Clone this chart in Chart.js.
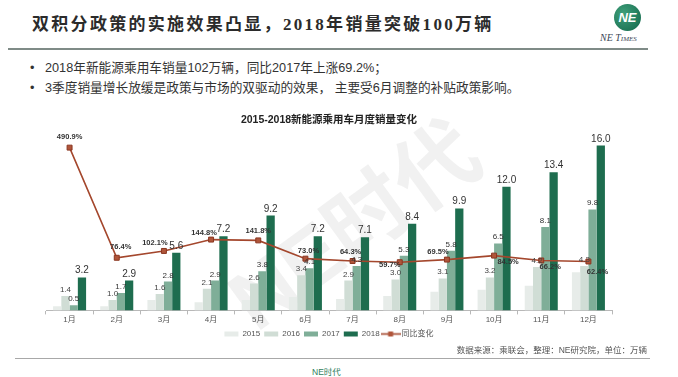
<!DOCTYPE html>
<html>
<head>
<meta charset="utf-8">
<script src="https://cdn.jsdelivr.net/npm/chart.js@4.4.1/dist/chart.umd.min.js"></script>
<style>
html,body{margin:0;padding:0;background:#fff;}
body{width:678px;height:377px;position:relative;overflow:hidden;font-family:"Liberation Sans","Noto Sans CJK SC",sans-serif;}
#title{position:absolute;left:32px;top:13px;font-family:"Liberation Serif","Noto Sans CJK SC",serif;font-weight:700;font-size:17px;letter-spacing:2.3px;color:#2b2b2b;white-space:nowrap;line-height:24px;}
#rule{position:absolute;left:8px;top:48px;width:640px;height:2px;background:#7f8b87;}
.bullet{position:absolute;left:30px;font-size:12.7px;color:#333;white-space:nowrap;line-height:16px;}
.bullet span.dot{display:inline-block;width:15px;}
#logo{position:absolute;left:614px;top:4px;width:27px;height:27px;border-radius:50%;background:radial-gradient(circle at 35% 35%,#3fa07a,#12664a);color:#fff;font:italic bold 13px "Liberation Sans";text-align:center;line-height:27px;}
#logoText{position:absolute;left:600px;top:32px;font-family:"Liberation Serif",serif;font-style:italic;font-variant:small-caps;font-size:10px;color:#3b4656;white-space:nowrap;}
#chartBox{position:absolute;left:0;top:100px;width:678px;height:249px;}
#watermark{position:absolute;left:350px;top:220px;transform:translate(-50%,-50%) rotate(-36deg);font:bold 84px "Liberation Sans","Noto Sans CJK SC";color:rgba(150,150,150,0.13);white-space:nowrap;}
#source{position:absolute;right:31px;top:344px;font-size:8.5px;color:#555;line-height:12px;white-space:nowrap;}
#footRule{position:absolute;left:15px;top:358px;width:635px;height:1px;background:#a8a8a8;}
#foot{position:absolute;left:312px;top:366px;font-size:8.5px;color:#2e7d5b;line-height:12px;}
</style>
</head>
<body>
<div id="title">双积分政策的实施效果凸显，2018年销量突破100万辆</div>
<div id="logo">NE</div>
<div id="logoText">NE Times</div>
<div id="rule"></div>
<div class="bullet" style="top:60px"><span class="dot">•</span>2018年新能源乘用车销量102万辆，同比2017年上涨69.2%；</div>
<div class="bullet" style="top:80px"><span class="dot">•</span>3季度销量增长放缓是政策与市场的双驱动的效果， 主要受6月调整的补贴政策影响。</div>
<div id="watermark">NE时代</div>
<div id="chartBox"><canvas id="c" width="678" height="249"></canvas></div>
<div id="source">数据来源：乘联会，整理：NE研究院，单位：万辆</div>
<div id="footRule"></div>
<div id="foot">NE时代</div>
<script>
// ---- data ----
const categories = ['1月','2月','3月','4月','5月','6月','7月','8月','9月','10月','11月','12月'];
const sales2015 = [0.4, 0.4, 1.0, 0.8, 1.0, 1.3, 1.1, 1.4, 1.8, 2.0, 2.4, 3.7];
const sales2016 = [1.4, 1.0, 1.6, 2.1, 2.6, 3.4, 2.9, 3.0, 3.1, 3.2, 4.2, 4.3];
const sales2017 = [0.5, 1.7, 2.8, 2.9, 3.8, 4.1, 4.3, 5.3, 5.8, 6.5, 8.1, 9.8];
const sales2018 = [3.2, 2.9, 5.6, 7.2, 9.2, 7.2, 7.1, 8.4, 9.9, 12.0, 13.4, 16.0];
const yoyChange = [490.9, 76.4, 102.1, 144.8, 141.8, 73.0, 64.3, 59.7, 69.5, 84.5, 66.2, 62.4];

// ---- styles ----
const FONT = '"Liberation Sans","Noto Sans CJK SC",sans-serif';
const LINE_COLOR = '#a4472d';
const yoyLabelOffsets = [[0,-11],[4,-11],[-9,-8],[-7,-7],[0,-9],[3,-8],[-2,-9],[-10,3],[-9,-8],[14,6],[9,6],[9,10]];
const barLabelStyle = {
  '2016': {size: 8, weight: 'normal', color: '#444'},
  '2017': {size: 8, weight: 'normal', color: '#333'},
  '2018': {size: 10, weight: 'normal', color: '#333'}
};

const labelPlugin = {
  id: 'valueLabels',
  afterDatasetsDraw(chart) {
    const ctx = chart.ctx;
    ctx.save();
    chart.data.datasets.forEach((ds, di) => {
      const meta = chart.getDatasetMeta(di);
      if (ds.type === 'bar') {
        const st = barLabelStyle[ds.label];
        if (!st) return;
        ctx.font = st.weight + ' ' + st.size + 'px ' + FONT;
        ctx.fillStyle = st.color;
        ctx.textAlign = 'center';
        ctx.textBaseline = 'alphabetic';
        meta.data.forEach((el, i) => {
          ctx.fillText(ds.data[i].toFixed(1), el.x, el.y - 4);
        });
      }
    });
    chart.data.datasets.forEach((ds, di) => {
      const meta = chart.getDatasetMeta(di);
      if (ds.type === 'line') {
        ctx.font = 'bold 7.5px ' + FONT;
        ctx.fillStyle = '#333';
        ctx.textAlign = 'center';
        ctx.textBaseline = 'middle';
        meta.data.forEach((el, i) => {
          const o = yoyLabelOffsets[i];
          ctx.fillText(ds.data[i].toFixed(1) + '%', el.x + o[0], el.y + o[1]);
        });
      }
    });
    ctx.restore();
  }
};

function lineLegendIcon() {
  const c = document.createElement('canvas');
  c.width = 20; c.height = 7;
  const g = c.getContext('2d');
  g.strokeStyle = LINE_COLOR; g.lineWidth = 1.6;
  g.beginPath(); g.moveTo(0, 3.5); g.lineTo(20, 3.5); g.stroke();
  g.fillStyle = '#b0553a'; g.fillRect(7.5, 1, 5, 5);
  return c;
}
const legendIcon = lineLegendIcon();

const barDs = (label, data, color) => ({
  type: 'bar', label, data, backgroundColor: color, yAxisID: 'y',
  categoryPercentage: 0.7, barPercentage: 1.0, borderWidth: 0
});

new Chart(document.getElementById('c'), {
  data: {
    labels: categories,
    datasets: [
      barDs('2015', sales2015, '#e7ece9'),
      barDs('2016', sales2016, '#d0ddd5'),
      barDs('2017', sales2017, '#7fae98'),
      barDs('2018', sales2018, '#1e6d4f'),
      {
        type: 'line', label: '同比变化', data: yoyChange, yAxisID: 'y2', order: -1,
        borderColor: LINE_COLOR, borderWidth: 1.6, tension: 0,
        pointStyle: 'rect', pointRadius: 3.5, pointBackgroundColor: '#b0553a',
        pointBorderColor: '#8a3620', pointBorderWidth: 1
      }
    ]
  },
  options: {
    responsive: false,
    animation: false,
    layout: {padding: {left: 46, right: 66, top: 0, bottom: 1}},
    scales: {
      x: {
        grid: {display: true, drawOnChartArea: false, drawTicks: true, tickLength: 4, color: '#b8b8b8'},
        border: {display: true, color: '#b8b8b8'},
        ticks: {font: {size: 8, family: FONT}, color: '#555', padding: 1}
      },
      y: {display: false, min: 0, max: 17.45},
      y2: {display: false, position: 'right', min: -121.7, max: 555}
    },
    plugins: {
      title: {
        display: true, text: '2015-2018新能源乘用车月度销量变化',
        font: {size: 10.5, weight: 'bold', family: FONT}, color: '#222',
        padding: {top: 14, bottom: 4}
      },
      tooltip: {enabled: false},
      legend: {
        position: 'bottom',
        labels: {
          usePointStyle: true, pointStyleWidth: 14, boxHeight: 5,
          font: {size: 8, family: FONT}, color: '#555', padding: 4,
          generateLabels(chart) {
            const items = Chart.defaults.plugins.legend.labels.generateLabels(chart);
            items.forEach(it => {
              const ds = chart.data.datasets[it.datasetIndex];
              if (ds.type === 'line') { it.pointStyle = legendIcon; }
              else { it.pointStyle = 'rect'; it.lineWidth = 0; }
            });
            items.sort((a, b) => a.datasetIndex - b.datasetIndex);
            return items;
          }
        }
      }
    }
  },
  plugins: [labelPlugin]
});
</script>
</body>
</html>
